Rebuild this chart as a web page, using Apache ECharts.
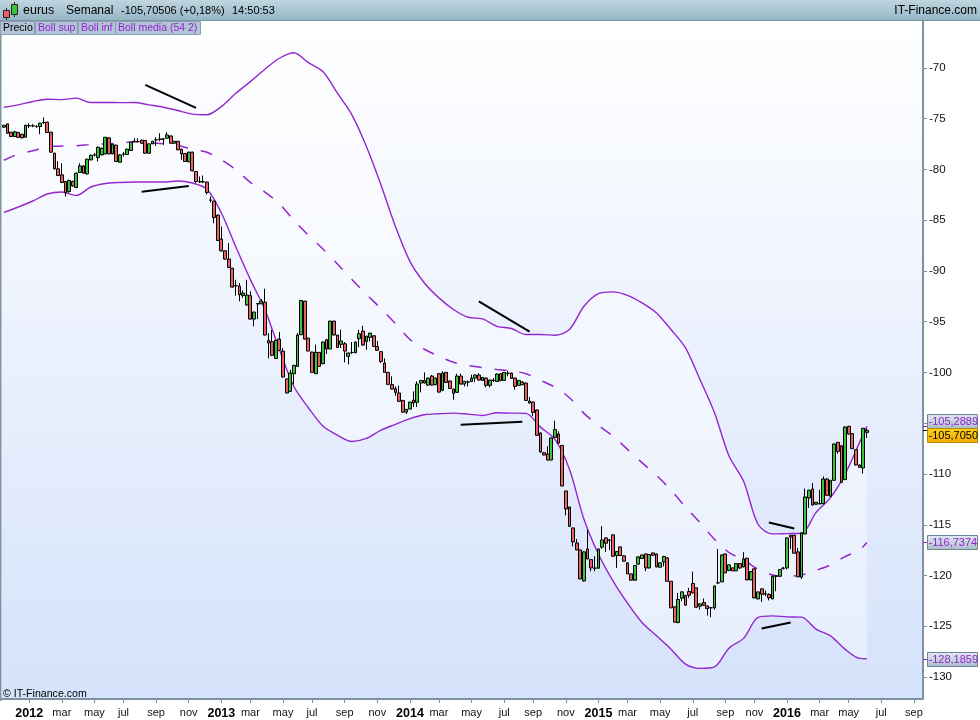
<!DOCTYPE html>
<html><head><meta charset="utf-8">
<style>html,body{margin:0;padding:0;background:#fff}#c{width:980px;height:720px}</style>
<script src="https://cdn.jsdelivr.net/npm/echarts@6/dist/echarts.min.js"></script>
</head><body><div id="c"></div>
<script>
// [open, close, low, high]
const candles2011 = [[-75.84,-75.65,-75.9,-75.6],[-75.51,-76.43,-76.5,-75.5],[-76.33,-76.76,-76.8,-76.3],[-76.76,-76.30,-76.8,-76.2],[-76.37,-76.83,-76.9,-76.3],[-76.53,-76.89,-76.95,-76.5],[-76.83,-75.65,-76.85,-75.6]];
const candles2012 = [[-75.71,-75.68,-75.94,-75.45],[-75.72,-75.70,-75.84,-75.51],[-75.78,-75.76,-75.9,-75.65],[-75.78,-75.45,-76.53,-75.4],[-75.40,-75.38,-75.51,-74.89],[-75.35,-76.37,-76.4,-75.3],[-76.33,-78.30,-78.35,-76.3],[-78.40,-79.94,-80.0,-78.35],[-79.94,-80.60,-80.65,-79.19],[-80.53,-81.29,-81.35,-79.39],[-81.19,-82.27,-82.67,-81.15],[-82.17,-81.09,-82.3,-81.0],[-81.19,-81.62,-81.7,-81.1],[-81.78,-80.37,-81.85,-80.3],[-80.30,-79.65,-80.35,-79.39],[-79.65,-80.37,-80.4,-79.6],[-80.44,-78.99,-80.5,-78.95],[-79.06,-78.60,-79.1,-78.55],[-78.58,-78.56,-78.73,-78.40],[-78.83,-77.81,-79.22,-77.75],[-78.57,-77.91,-78.6,-77.85],[-78.47,-76.83,-78.5,-76.8],[-76.89,-78.47,-78.5,-76.85],[-78.47,-77.52,-78.5,-77.5],[-77.61,-79.22,-79.25,-77.55],[-79.29,-78.57,-79.3,-78.5],[-78.50,-78.48,-78.73,-78.27],[-78.53,-78.01,-78.55,-77.95],[-78.14,-77.32,-78.15,-77.3],[-77.25,-77.23,-77.35,-76.93],[-77.26,-77.24,-77.35,-76.93],[-77.12,-77.42,-77.5,-77.05],[-77.15,-78.40,-78.45,-77.1],[-78.40,-77.48,-78.45,-77.45],[-77.48,-77.22,-77.5,-77.2],[-77.10,-77.08,-77.68,-76.83],[-77.03,-77.01,-77.22,-76.43],[-77.03,-77.01,-77.58,-76.9],[-76.93,-76.60,-76.95,-76.33],[-76.70,-77.42,-77.45,-76.65],[-77.42,-77.22,-77.45,-77.2],[-77.22,-78.07,-78.1,-77.2],[-78.01,-78.47,-79.06,-77.95],[-78.43,-79.22,-79.25,-78.4],[-79.25,-78.30,-79.3,-78.25],[-78.30,-80.14,-80.2,-78.25],[-80.20,-81.19,-81.35,-80.15],[-81.22,-81.20,-81.35,-80.70],[-81.23,-81.21,-81.35,-80.60],[-81.25,-82.27,-82.47,-81.2],[-83.03,-83.01,-83.26,-82.66],[-83.12,-84.73,-85.29,-83.1],[-84.50,-87.00,-87.05,-84.45]];
const candles2013 = [[-86.86,-88.01,-88.1,-85.62],[-88.01,-88.83,-88.9,-88.0],[-88.83,-89.65,-89.7,-87.26],[-89.72,-91.59,-91.65,-89.7],[-91.46,-91.44,-92.44,-90.87],[-91.49,-92.34,-93.0,-91.19],[-92.41,-92.18,-92.65,-91.92],[-93.36,-92.38,-93.4,-90.87],[-92.44,-94.74,-94.8,-92.0],[-94.74,-94.05,-95.46,-94.0],[-93.24,-93.22,-94.74,-93.15],[-93.23,-92.97,-93.25,-92.77],[-93.07,-96.31,-96.35,-91.75],[-96.84,-97.10,-98.61,-96.12],[-96.97,-98.31,-98.35,-95.79],[-98.61,-96.84,-98.68,-96.8],[-96.71,-97.82,-97.85,-96.02],[-97.89,-100.45,-100.5,-97.59],[-100.64,-102.02,-102.05,-100.6],[-101.86,-100.05,-101.9,-99.73],[-100.12,-99.30,-101.17,-99.25],[-99.40,-96.31,-99.45,-96.12],[-96.28,-92.90,-96.3,-92.85],[-92.97,-96.71,-96.75,-92.95],[-96.61,-97.89,-97.9,-96.6],[-97.99,-99.99,-100.0,-97.95],[-100.12,-98.02,-100.15,-97.26],[-98.02,-99.40,-99.45,-98.0],[-99.13,-97.00,-99.2,-96.95],[-96.77,-97.69,-98.18,-96.7],[-97.69,-94.94,-97.7,-94.9],[-94.94,-96.31,-96.35,-94.9],[-96.31,-97.53,-97.55,-96.3],[-97.23,-96.90,-97.59,-95.79],[-97.17,-97.89,-99.0,-97.0],[-98.41,-98.08,-99.2,-98.05],[-98.04,-98.02,-98.18,-97.0],[-98.05,-97.00,-98.1,-96.95],[-96.67,-96.18,-97.5,-95.79],[-95.92,-97.30,-97.35,-95.39],[-96.94,-96.41,-97.76,-96.4],[-96.54,-96.12,-96.94,-96.1],[-96.38,-97.43,-97.45,-96.35],[-97.46,-97.82,-97.85,-96.90],[-97.95,-98.91,-99.07,-97.9],[-99.07,-99.99,-100.0,-98.61],[-99.99,-101.17,-101.2,-99.95],[-101.2,-101.63,-101.65,-100.38],[-101.6,-101.96,-102.3,-101.37],[-102.02,-102.84,-102.9,-101.3],[-102.75,-103.9,-103.95,-102.7],[-103.9,-103.63,-104.09,-103.6]];
const candles2014 = [[-103.6,-102.91,-103.65,-102.9],[-102.71,-103.0,-103.4,-101.86],[-102.94,-101.14,-103.4,-100.88],[-101.04,-100.78,-101.96,-100.75],[-100.78,-101.04,-101.1,-99.99],[-101.24,-100.55,-101.3,-100.5],[-100.35,-101.24,-101.3,-100.25],[-101.2,-100.55,-101.25,-100.5],[-100.12,-101.93,-102.0,-100.06],[-101.76,-100.06,-101.85,-99.89],[-99.99,-100.98,-101.05,-99.95],[-100.84,-101.57,-101.6,-100.8],[-101.63,-102.06,-102.68,-101.6],[-101.96,-100.35,-102.0,-100.12],[-100.35,-101.14,-101.2,-100.12],[-101.14,-100.88,-101.37,-100.85],[-100.95,-100.93,-101.37,-100.78],[-100.88,-100.55,-100.95,-100.22],[-100.55,-100.25,-100.94,-100.2],[-100.25,-100.75,-100.8,-100.06],[-100.78,-100.48,-100.85,-100.45],[-100.55,-101.27,-101.47,-100.5],[-101.27,-100.75,-101.47,-100.7],[-100.79,-100.77,-100.94,-100.55],[-100.88,-100.15,-100.9,-100.1],[-100.12,-100.81,-100.85,-100.08],[-100.78,-99.99,-100.8,-99.95],[-100.09,-100.07,-100.38,-99.83],[-100.06,-100.58,-100.6,-100.0],[-100.55,-101.37,-101.7,-100.5],[-101.27,-100.78,-101.3,-100.75],[-100.94,-101.2,-101.25,-100.85],[-101.04,-102.75,-102.8,-101.0],[-103.01,-102.81,-103.05,-102.42],[-102.91,-103.93,-104.3,-102.85],[-103.7,-106.19,-106.25,-103.65],[-105.96,-107.83,-107.9,-105.9],[-107.9,-108.13,-108.15,-107.85],[-108.03,-108.62,-108.65,-107.27],[-108.62,-106.45,-108.65,-106.4],[-106.39,-105.63,-106.4,-104.75],[-106.06,-106.95,-107.0,-105.8],[-107.18,-111.18,-111.2,-107.15],[-111.67,-113.44,-114.07,-111.65],[-113.25,-115.15,-115.2,-113.2],[-115.31,-116.69,-117.12,-115.3],[-116.79,-117.48,-117.5,-116.4],[-117.48,-120.33,-120.35,-117.45],[-120.53,-117.67,-120.6,-117.6],[-117.38,-118.36,-118.4,-115.48],[-118.43,-119.25,-119.58,-118.4],[-119.28,-119.26,-119.58,-118.1]];
const candles2015 = [[-119.28,-117.38,-119.3,-117.35],[-117.21,-116.49,-117.38,-115.14],[-116.29,-116.82,-117.67,-116.25],[-116.53,-116.51,-117.51,-116.39],[-115.99,-118.10,-118.15,-115.95],[-118.03,-117.64,-119.25,-117.6],[-117.18,-118.03,-118.05,-117.15],[-118.06,-118.59,-118.6,-118.0],[-118.75,-119.84,-119.85,-118.7],[-119.84,-120.46,-120.5,-119.8],[-120.46,-119.02,-120.5,-119.0],[-118.88,-118.16,-118.9,-118.1],[-118.33,-117.97,-118.35,-117.95],[-117.87,-119.25,-119.57,-117.85],[-119.25,-117.93,-119.3,-117.9],[-117.77,-118.0,-118.05,-117.75],[-117.87,-119.15,-119.2,-117.85],[-119.18,-118.75,-119.2,-118.7],[-118.66,-118.13,-119.1,-118.05],[-118.26,-120.56,-120.6,-118.2],[-120.56,-123.18,-123.2,-120.55],[-123.08,-124.59,-124.6,-123.05],[-124.63,-122.36,-124.7,-121.71],[-122.23,-121.61,-122.53,-121.55],[-121.97,-122.92,-122.95,-121.9],[-121.57,-121.94,-122.2,-121.21],[-120.79,-121.71,-121.75,-119.61],[-121.21,-123.12,-123.2,-121.2],[-123.02,-122.79,-123.35,-122.75],[-122.66,-122.92,-123.0,-122.26],[-122.99,-123.25,-123.94,-122.95],[-123.18,-123.16,-124.1,-123.15],[-123.18,-121.02,-123.35,-121.0],[-120.73,-120.71,-120.8,-117.38],[-120.62,-117.97,-120.65,-117.95],[-117.87,-119.74,-119.75,-117.85],[-119.51,-118.95,-119.55,-118.9],[-119.25,-119.54,-119.55,-119.2],[-119.54,-118.82,-119.55,-118.8],[-118.82,-119.25,-119.35,-118.8],[-119.15,-118.36,-119.2,-117.7],[-118.29,-120.43,-120.45,-118.25],[-120.43,-119.61,-120.45,-119.55],[-119.34,-122.2,-122.25,-119.3],[-122.3,-121.61,-122.35,-121.6],[-121.31,-121.84,-122.59,-121.3],[-121.81,-121.79,-122.03,-121.48],[-121.87,-122.2,-122.45,-121.75],[-122.3,-120.07,-122.35,-120.0],[-120.07,-120.05,-121.54,-120.0],[-120.07,-119.41,-120.1,-119.38],[-119.29,-119.27,-119.41,-119.15]];
const candles2016 = [[-119.25,-116.29,-119.4,-116.25],[-116.03,-116.2,-117.38,-116.0],[-116.03,-117.8,-117.85,-116.0],[-117.67,-120.13,-120.15,-117.28],[-120.16,-115.8,-120.33,-115.75],[-115.9,-112.26,-115.95,-111.44],[-112.36,-111.6,-113.34,-111.55],[-111.47,-113.05,-113.1,-110.88],[-112.98,-112.78,-113.0,-112.75],[-112.93,-112.91,-113.0,-111.54],[-112.92,-110.49,-112.95,-110.23],[-110.49,-112.1,-112.15,-110.4],[-112.19,-110.62,-112.25,-110.6],[-110.62,-107.04,-110.65,-107.0],[-106.88,-107.77,-108.0,-106.85],[-107.21,-110.82,-110.85,-107.15],[-110.55,-105.37,-110.6,-105.3],[-105.3,-106.06,-106.1,-105.25],[-106.03,-107.5,-107.55,-106.0],[-107.6,-109.11,-109.15,-107.55],[-109.11,-109.34,-109.4,-109.05],[-109.41,-105.5,-109.96,-105.45],[-105.9,-105.705,-106.45,-105.5]];

// Bollinger bands, read every 4 weeks plus the last week
const bollSup = [-73.87,-73.64,-73.31,-73.08,-73.12,-72.98,-73.41,-73.40,-73.42,-73.41,-73.64,-73.87,-74.20,-74.55,-74.62,-73.81,-72.49,-71.35,-70.13,-69.05,-68.50,-69.48,-70.36,-72.49,-74.62,-77.74,-81.51,-85.61,-89.05,-91.18,-92.65,-93.80,-94.56,-94.72,-95.45,-95.67,-96.26,-96.26,-96.33,-95.77,-93.48,-92.23,-92.06,-92.40,-93.14,-94.13,-95.77,-97.57,-100.69,-103.96,-108.23,-110.69,-114.95,-115.90,-115.87,-115.84,-113.80,-112.32,-110.03,-106.91,-105.29];
const bollMedia = [-79.10,-78.49,-78.16,-77.77,-77.70,-77.67,-77.54,-77.48,-77.41,-77.28,-77.35,-77.48,-77.64,-78.00,-78.31,-79.05,-80.03,-81.28,-82.23,-83.38,-85.02,-86.49,-87.83,-89.31,-90.85,-92.30,-93.70,-95.18,-96.75,-97.71,-98.40,-98.99,-99.31,-99.51,-99.70,-99.83,-100.13,-100.76,-101.45,-102.49,-104.03,-105.21,-106.27,-107.57,-108.88,-110.13,-111.58,-113.25,-114.78,-116.43,-117.73,-118.46,-119.38,-119.94,-120.07,-119.94,-119.50,-118.95,-118.13,-117.48,-116.74];
const bollInf = [-84.23,-83.70,-83.11,-82.42,-82.23,-82.56,-81.73,-81.38,-81.28,-81.24,-81.24,-81.24,-81.14,-81.34,-81.93,-84.29,-87.64,-90.85,-93.80,-97.74,-101.38,-103.47,-105.28,-106.17,-106.79,-106.49,-105.68,-105.11,-104.55,-104.16,-104.06,-104.00,-104.10,-104.23,-103.96,-104.00,-104.03,-105.38,-106.59,-109.54,-114.46,-117.90,-120.53,-122.72,-124.62,-125.94,-127.25,-128.72,-129.14,-128.99,-127.15,-126.19,-124.13,-123.97,-124.07,-124.10,-125.28,-125.94,-127.25,-128.16,-128.19];
const bandWeeks = [0,4,8,12,16,20,24,28,32,36,40,44,48,52,56,60,64,68,72,76,80,84,88,92,96,100,104,108,112,116,120,124,128,132,136,140,144,148,152,156,160,164,168,172,176,180,184,188,192,196,200,204,208,212,216,220,224,228,232,236,238];

// hand-drawn trend lines: [week, value, week, value]
const trendLines = [[39,-71.67,53,-73.93],[38,-82.20,51,-81.64],[131,-92.99,145,-95.97],[126,-105.14,143,-104.85],[211,-114.78,218,-115.37],[209,-125.21,217,-124.62]];

const yTicks = [-130,-125,-120,-115,-110,-105,-100,-95,-90,-85,-80,-75,-70];
const yTickLabelsShown = [-130,-125,-120,-115,-110,-100,-95,-90,-85,-80,-75,-70];
const monthLabels = {3:'mar',5:'may',7:'jul',9:'sep',11:'nov'};
const weekCount = 254;
const firstWeek = Date.UTC(2011,10,14);
const categories = [];
for (let i = 0; i < weekCount; i++) categories.push(new Date(firstWeek + i*7*864e5).toISOString().slice(0,10));

const priceTags = [
  {value:-105.2889, text:'-105,2889', shift:-5, kind:'boll'},
  {value:-105.7050, text:'-105,7050', shift:5, kind:'last'},
  {value:-116.7374, text:'-116,7374', shift:0, kind:'boll'},
  {value:-128.1859, text:'-128,1859', shift:0, kind:'boll'}
];

const candles = [].concat(candles2011,candles2012,candles2013,candles2014,candles2015,candles2016);
const isMonthTick = (idx) => {
  const c = categories[idx]; const m = +c.slice(5,7), d = +c.slice(8,10);
  return d <= 7 && (m === 1 || m % 2 === 1);
};
const purple = '#9426cf';
const fnt = '"Liberation Sans", Arial, sans-serif';
const toPairs = (arr) => arr.map((v,k) => [bandWeeks[k], v]);
const bandLine = (name, arr, extra) => Object.assign({
  name, type:'line', data: toPairs(arr), showSymbol:false, symbol:'none', silent:true, z:3,
  smooth:0.3,
  lineStyle:{color:purple, width:1.4}
}, extra||{});

const chart = echarts.init(document.getElementById('c'), null, {renderer:'canvas'});
const option = {
  animation:false,
  backgroundColor:'#fff',
  grid:{left:2, right:57, top:21, bottom:20, show:true, borderWidth:0,
    backgroundColor:new echarts.graphic.LinearGradient(0,0,0,1,[{offset:0,color:'#ffffff'},{offset:1,color:'#d5e2fb'}])},
  xAxis:{type:'category', data:categories, boundaryGap:true,
    axisLine:{show:true, lineStyle:{color:'#7d93a1', width:2}},
    axisTick:{show:true, alignWithLabel:true, length:4, interval:(i)=>isMonthTick(i), lineStyle:{color:'#7d93a1'}},
    axisLabel:{interval:(i)=>isMonthTick(i), margin:8, color:'#111', fontFamily:fnt, fontSize:11,
      formatter:(v)=>{const m=+v.slice(5,7); return m===1?'{y|'+v.slice(0,4)+'}':monthLabels[m];},
      rich:{y:{fontWeight:'bold', fontSize:12.5, fontFamily:fnt, color:'#000'}}},
    splitLine:{show:false}},
  yAxis:{type:'value', position:'right', min:-132.16, max:-65.38, scale:true,
    axisLine:{show:true, lineStyle:{color:'#7d93a1', width:2}},
    axisTick:{show:true, length:4, customValues:yTicks, lineStyle:{color:'#7d93a1'}},
    axisLabel:{customValues:yTickLabelsShown, margin:6, color:'#111', fontFamily:fnt, fontSize:11.5},
    splitLine:{show:false}},
  series:[
    {type:'custom', silent:true, z:1, data:[[0]], clip:true,
     renderItem:(p,api)=>{
       const pts=[];
       bollSup.forEach((v,k)=>pts.push(api.coord([bandWeeks[k],v])));
       for(let k=bollInf.length-1;k>=0;k--) pts.push(api.coord([bandWeeks[k],bollInf[k]]));
       return {type:'polygon', shape:{points:pts, smooth:0}, style:{fill:'rgba(255,255,255,0.42)'}, silent:true};
     }},
    bandLine('Boll sup', bollSup),
    bandLine('Boll inf', bollInf),
    bandLine('Boll media', bollMedia, {lineStyle:{color:purple, width:1.5, type:[12,13]}}),
    {name:'Precio', type:'candlestick', data:candles, barWidth:3.3, z:4, silent:true,
     itemStyle:{color:'#3ac43a', color0:'#e8605f', borderColor:'#000', borderColor0:'#000', borderColorDoji:'#000', borderWidth:1}},
  ].concat(trendLines.map(t=>({type:'line', data:[[t[0],t[1]],[t[2],t[3]]], showSymbol:false, symbol:'none', silent:true, z:5,
     lineStyle:{color:'#000', width:2}})))
};
chart.setOption(option);

// chrome: header, buttons, price tags
const hdrGrad = new echarts.graphic.LinearGradient(0,0,0,1,[{offset:0,color:'#c0d6e0'},{offset:1,color:'#95b6c6'}]);
const tagGrad = new echarts.graphic.LinearGradient(0,0,0,1,[{offset:0,color:'#e2eaf1'},{offset:1,color:'#a9bccb'}]);
const yelGrad = new echarts.graphic.LinearGradient(0,0,0,1,[{offset:0,color:'#ffd21a'},{offset:1,color:'#f3aa00'}]);
const txt = (x,y,s,o) => ({type:'text', x, y, silent:true, z:100, style:Object.assign({text:s, fontFamily:fnt, fontSize:12, fill:'#000', textVerticalAlign:'middle'},o||{})});
const rect = (x,y,w,h,fill,stroke) => ({type:'rect', silent:true, z:99, shape:{x,y,width:w,height:h}, style:{fill, stroke:stroke||null, lineWidth:1}});
const els = [
  rect(0,0,980,20,hdrGrad),
  rect(0,20,980,1,'#7d93a1'),
  rect(0,21,1.5,680,'#7d93a1'),
  {type:'line', silent:true, z:99, shape:{x1:6.5,y1:8,x2:6.5,y2:20}, style:{stroke:'#222'}},
  {type:'line', silent:true, z:99, shape:{x1:14.5,y1:2,x2:14.5,y2:17}, style:{stroke:'#222'}},
  rect(3.5,10.5,6,7,'#e8605f','#222'),
  rect(11.5,4.5,6,10,'#3ac43a','#222'),
  txt(23,11,'eurus',{fontSize:12.5}), txt(66,11,'Semanal'), txt(121,11,'-105,70506 (+0,18%)',{fontSize:11}), txt(232,11,'14:50:53',{fontSize:11}),
  txt(977,11,'IT-Finance.com',{textAlign:'right'}),
  rect(0.5,21.5,34,13,'#b2c5d6','#8ba0b0'), rect(35.5,21.5,42,13,'#b2c5d6','#8ba0b0'),
  rect(78.5,21.5,37,13,'#b2c5d6','#8ba0b0'), rect(115.5,21.5,85,13,'#b2c5d6','#8ba0b0'),
  txt(3,28,'Precio',{fontSize:10.5}),
  txt(38,28,'Boll sup',{fontSize:10.5,fill:purple}),
  txt(81,28,'Boll inf',{fontSize:10.5,fill:purple}),
  txt(118,28,'Boll media (54 2)',{fontSize:10.5,fill:purple}),
  txt(3,694,'© IT-Finance.com',{fontSize:10.6})
];
priceTags.forEach(t=>{
  const y = chart.convertToPixel({yAxisIndex:0}, t.value);
  const cy = Math.round(y) + t.shift;
  const isLast = t.kind==='last';
  els.push({type:'line', silent:true, z:99, shape:{x1:923,y1:Math.round(y)+.5,x2:928,y2:Math.round(y)+.5}, style:{stroke:isLast?'#000':purple}});
  els.push(rect(927.5,cy-6.5,50,14,isLast?yelGrad:tagGrad,isLast?'#b98a00':'#6f8494'));
  els.push(txt(928.5,cy+.5,t.text,{fontSize:11,fill:isLast?'#000':purple}));
});
chart.setOption({graphic:{elements:els}});
</script></body></html>
